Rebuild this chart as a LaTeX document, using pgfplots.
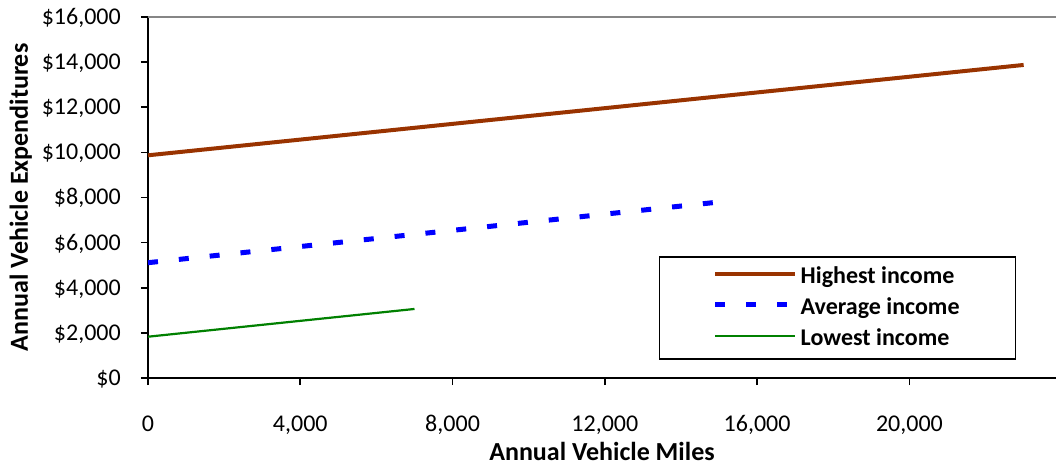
\documentclass[border=0pt]{standalone}
\usepackage{pgfplots}
\pgfplotsset{compat=1.18}
\usepackage{fontspec}
\setmainfont{Carlito}
\definecolor{hibrown}{RGB}{153,51,0}
\definecolor{avgblue}{RGB}{0,0,255}
\definecolor{lowgreen}{RGB}{0,128,0}
\definecolor{topgray}{RGB}{134,134,134}
\begin{document}
\begin{tikzpicture}
\begin{axis}[
  name=ax,
  width=908pt, height=361pt, scale only axis,
  xmin=0, xmax=23850, ymin=0, ymax=16000,
  axis x line*=bottom, axis y line*=left,
  axis line style={line width=1.6pt, black},
  scaled ticks=false,
  xtick={0,4000,8000,12000,16000,20000},
  xticklabels={0,{4,000},{8,000},{12,000},{16,000},{20,000}},
  ytick={0,2000,4000,6000,8000,10000,12000,14000,16000},
  yticklabels={{\$0},{\$2,000},{\$4,000},{\$6,000},{\$8,000},{\$10,000},{\$12,000},{\$14,000},{\$16,000}},
  tick style={black, line width=1.6pt},
  tick align=outside, major tick length=7pt,
  tick label style={font=\fontsize{24}{29}\selectfont, inner sep=0pt},
  xticklabel style={anchor=base, yshift=-46pt},
  yticklabel style={anchor=base east, xshift=-20pt, yshift=-7.5pt},
  xlabel={Annual Vehicle Miles},
  ylabel={Annual Vehicle Expenditures},
  label style={font=\fontsize{26}{30}\selectfont\bfseries, inner sep=0pt},
  xlabel style={at={(rel axis cs:0.5,0)}, anchor=base, yshift=-82pt},
  ylabel style={at={(rel axis cs:0,0.5)}, anchor=base, yshift=120pt},
  legend style={at={(axis cs:13422,798)}, anchor=south west, draw=black, line width=1.5pt,
    font=\fontsize{24}{29}\selectfont\bfseries, inner xsep=53pt, inner ysep=4.5pt,
    nodes={inner xsep=3pt, inner ysep=4.5pt, text height=17pt, text depth=5pt}},
  legend cell align=left,
  legend image code/.code={\draw[#1] (0pt,3.5pt) -- (80pt,3.5pt);},
]
\addplot[hibrown, line width=4pt] coordinates {(0,9870) (23000,13875)};
\addlegendentry{Highest income}
\addplot[avgblue, line width=5pt, dash pattern=on 10pt off 21pt] coordinates {(0,5110) (15000,7800)};
\addlegendentry{Average income}
\addplot[lowgreen, line width=2.2pt] coordinates {(0,1830) (7000,3060)};
\addlegendentry{Lowest income}
\draw[topgray, line width=1.6pt] (rel axis cs:0,1) -- (rel axis cs:1,1);
\end{axis}
\pgfresetboundingbox
\path ([shift={(-148pt,-88pt)}]ax.south west) rectangle ([shift={(0pt,17pt)}]ax.north east);
\end{tikzpicture}
\end{document}
